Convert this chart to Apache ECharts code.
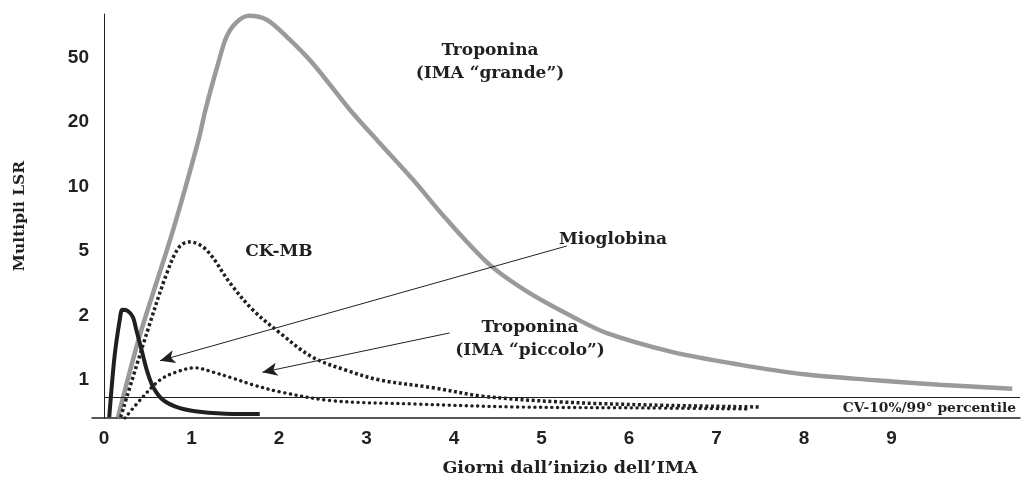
<!DOCTYPE html>
<html>
<head>
<meta charset="utf-8">
<script src="https://cdn.jsdelivr.net/npm/echarts@6/dist/echarts.min.js"></script>
<style>
  html, body { margin: 0; padding: 0; background: #fff; }
  #main { width: 1021px; height: 480px; }
</style>
</head>
<body>
<div id="main"></div>
<script>
// tick labels
var xTicks = [0, 1, 2, 3, 4, 5, 6, 7, 8, 9];
var yTickValues = [1, 2, 5, 10, 20, 50];

// Troponina (IMA "grande") - days / multiples of LSR
var tropGrandeDays = [0.16, 0.41, 0.78, 1.08, 1.16, 1.30, 1.40, 1.52, 1.66, 1.86, 2.09, 2.38, 2.81, 3.15, 3.53, 3.92, 4.41, 4.86, 5.36, 5.74, 6.50, 7.26, 8.03, 8.78, 9.55, 10.38];
var tropGrandeLSR = [0.67, 1.62, 6.08, 16.5, 23.9, 45.2, 67.4, 83.4, 90.9, 85.9, 67.4, 46.6, 23.9, 16.0, 10.8, 7.0, 4.11, 2.76, 1.97, 1.66, 1.35, 1.18, 1.06, 1.0, 0.95, 0.91];

// Mioglobina
var mioDays = [0.06, 0.12, 0.18, 0.21, 0.27, 0.33, 0.37, 0.43, 0.49, 0.56, 0.67, 0.86, 1.09, 1.47, 1.78];
var mioLSR = [0.67, 1.28, 1.91, 2.17, 2.14, 1.97, 1.71, 1.38, 1.11, 0.93, 0.81, 0.74, 0.71, 0.694, 0.694];

// CK-MB
var ckmbDays = [0.19, 0.49, 0.72, 0.86, 0.98, 1.17, 1.44, 1.70, 2.01, 2.38, 2.77, 3.15, 3.76, 4.33, 5.21, 6.24, 7.49];
var ckmbLSR = [0.67, 1.66, 3.67, 5.23, 5.52, 5.07, 3.18, 2.17, 1.66, 1.28, 1.11, 1.0, 0.92, 0.84, 0.79, 0.764, 0.748];

// Troponina (IMA "piccolo")
var tropPiccoloDays = [0.24, 0.44, 0.64, 0.83, 1.04, 1.24, 1.47, 1.70, 2.01, 2.61, 3.57, 4.72, 6.24, 7.34];
var tropPiccoloLSR = [0.664, 0.83, 1.0, 1.09, 1.14, 1.09, 1.02, 0.95, 0.88, 0.8, 0.772, 0.748, 0.74, 0.732];

// CV-10% / 99th percentile cut-off
var cutoffLSR = 0.833;

// the y axis is spaced evenly by tick label, log-interpolated in between
function toPos(v) {
  var i = 0;
  while (i < yTickValues.length - 2 && v > yTickValues[i + 1]) i++;
  return i + Math.log(v / yTickValues[i]) / Math.log(yTickValues[i + 1] / yTickValues[i]);
}
function pairs(days, lsr) {
  return days.map(function (d, i) { return [d, toPos(lsr[i])]; });
}

var ink = '#231f20';
var serif = 'DejaVu Serif';
var txt = { fill: ink, fontFamily: serif, fontWeight: 'bold', fontSize: 17, align: 'center', verticalAlign: 'middle', lineHeight: 23 };
var xMin = -0.137, xMax = 10.469;

var myChart = echarts.init(document.getElementById('main'));
myChart.setOption({
  animation: false,
  grid: { left: 92, right: 1, top: 14, bottom: 62, containLabel: false, outerBoundsMode: 'none' },
  xAxis: {
    type: 'value',
    min: xMin,
    max: xMax,
    name: 'Giorni dall\u2019inizio dell\u2019IMA',
    nameLocation: 'middle',
    nameGap: 41,
    nameMoveOverlap: false,
    nameTextStyle: { color: ink, fontFamily: serif, fontWeight: 'bold', fontSize: 17.5, padding: [0, 0, 0, 28] },
    axisLine: { onZero: false, lineStyle: { color: ink, width: 1.5 } },
    axisTick: { show: false },
    splitLine: { show: false },
    axisLabel: {
      customValues: xTicks,
      margin: 11,
      color: ink,
      fontFamily: 'Liberation Sans',
      fontWeight: 'bold',
      fontSize: 19
    }
  },
  yAxis: {
    type: 'value',
    min: -0.59,
    max: 5.68,
    name: 'Multipli LSR',
    nameLocation: 'middle',
    nameGap: 64,
    nameMoveOverlap: false,
    nameTextStyle: { color: ink, fontFamily: serif, fontWeight: 'bold', fontSize: 15.5 },
    axisLine: { onZero: true, lineStyle: { color: ink, width: 1 } },
    axisTick: { show: false },
    splitLine: { show: false },
    axisLabel: {
      customValues: [0, 1, 2, 3, 4, 5],
      formatter: function (v) { return String(yTickValues[Math.round(v)]); },
      margin: 3,
      color: ink,
      fontFamily: 'Liberation Sans',
      fontWeight: 'bold',
      fontSize: 19
    }
  },
  series: [
    {
      name: 'Troponina (IMA grande)',
      type: 'line',
      data: pairs(tropGrandeDays, tropGrandeLSR),
      smooth: 0.3,
      showSymbol: false,
      lineStyle: { color: '#9a9a9a', width: 4.5 },
      markLine: {
        silent: true,
        symbol: 'none',
        lineStyle: { color: ink, width: 1, type: 'solid' },
        label: {
          position: 'insideEndBottom',
          formatter: 'CV-10%/99\u00b0 percentile',
          color: ink,
          fontFamily: serif,
          fontWeight: 'bold',
          fontSize: 13.8,
          distance: [4, 4]
        },
        data: [[{ coord: [0, toPos(cutoffLSR)] }, { coord: [xMax, toPos(cutoffLSR)] }]]
      }
    },
    {
      name: 'Troponina (IMA piccolo)',
      type: 'line',
      data: pairs(tropPiccoloDays, tropPiccoloLSR),
      smooth: 0.35,
      showSymbol: false,
      lineStyle: { color: ink, width: 3.4, type: [0.1, 5.6], cap: 'round' }
    },
    {
      name: 'CK-MB',
      type: 'line',
      data: pairs(ckmbDays, ckmbLSR),
      smooth: 0.35,
      showSymbol: false,
      lineStyle: { color: ink, width: 3.5, type: [3, 2.6] }
    },
    {
      name: 'Mioglobina',
      type: 'line',
      data: pairs(mioDays, mioLSR),
      smooth: 0.3,
      showSymbol: false,
      lineStyle: { color: ink, width: 4 },
      markLine: {
        silent: true,
        symbol: ['none', 'arrow'],
        symbolSize: [10, 15],
        lineStyle: { color: ink, width: 1, type: 'solid' },
        label: { show: false },
        data: [
          [{ coord: [5.29, 2.08] }, { coord: [0.64, 0.3] }],
          [{ coord: [3.95, 0.73] }, { coord: [1.81, 0.12] }]
        ]
      }
    }
  ],
  graphic: [
    { type: 'text', style: Object.assign({ text: 'Troponina\n(IMA \u201cgrande\u201d)', x: 490, y: 62 }, txt) },
    { type: 'text', style: Object.assign({ text: 'CK-MB', x: 279, y: 252 }, txt) },
    { type: 'text', style: Object.assign({ text: 'Mioglobina', x: 613, y: 240 }, txt) },
    { type: 'text', style: Object.assign({ text: 'Troponina\n(IMA \u201cpiccolo\u201d)', x: 530, y: 339 }, txt) }
  ]
});
</script>
</body>
</html>
